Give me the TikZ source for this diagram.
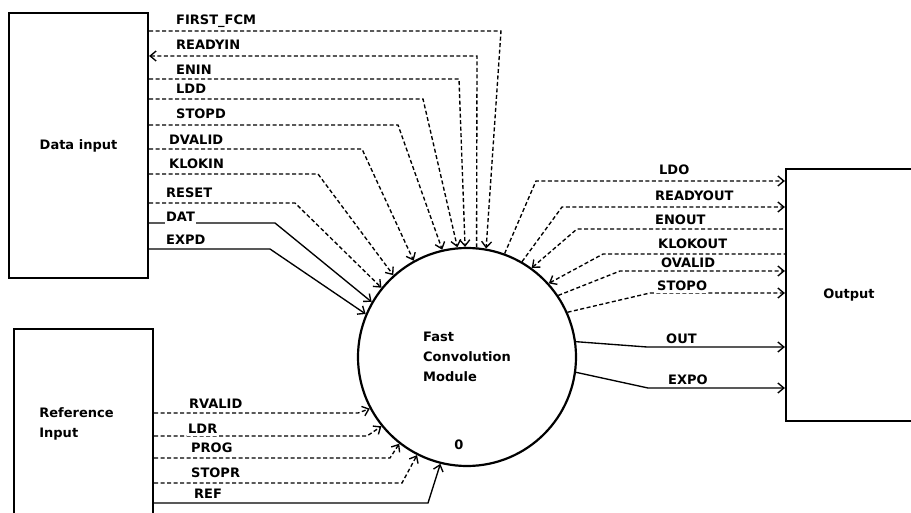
\documentclass[tikz,border=0pt]{standalone}
\usepackage{fontspec}
\setmainfont{DejaVu Sans}
\usetikzlibrary{arrows.meta}
\usetikzlibrary{positioning}

\begin{document}
\begin{tikzpicture}[
    x=1pt, y=-1pt,
    font=\bfseries\fontsize{13}{20}\selectfont,
    unit/.style={draw, line width=2.2pt, inner sep=0pt},
    module/.style={circle, draw, line width=2.2pt, minimum size=218pt, inner sep=0pt, align=left},
    ctrl/.style={line width=1.35pt, dash pattern=on 4pt off 2.5pt},
    data/.style={line width=1.35pt},
    sig/.style={fill=white, inner xsep=1pt, inner ysep=2pt, anchor=west},
    >={Straight Barb[length=6pt, width=10pt]}
]
\clip (0,0) rectangle (911,513);

% --- Units ---
\node[unit, minimum width=139pt, minimum height=265pt] (din) at (78.5,145.5) {Data input};
\node[unit, minimum width=139pt, minimum height=190pt, align=left] (rin) at (83.5,424) {Reference\hspace*{14pt}\\Input};
\node[unit, minimum width=126pt, minimum height=252pt] (out) at (849,295) {Output};
\node[module] (fcm) at (467,357) {Fast\\Convolution\hspace*{10pt}\\Module};
\node (zero) at (459,445) {0};

% --- Data input to module ---
\foreach \name/\y/\lx/\ly/\cx/\ang [count=\i] in {FIRST\_FCM/31/175/21/501/80, ENIN/79/175/70/459/91, LDD/99/175/89/423/95, STOPD/125/175/114/398/103, DVALID/149/168/140/362/119, KLOKIN/174/168/164/318/132, RESET/203/165/193/295/141}
{
    \draw[ctrl, ->] (din.east |- 0,\y) -- (\cx,\y) -- (fcm.\ang);
    \node[sig] (dl\i) at (\lx,\ly) {\name};
}
\foreach \name/\y/\lx/\ly/\cx/\ang [count=\i] in {DAT/223/165/217/275/150, EXPD/249/165/240/270/157}
{
    \draw[data, ->] (din.east |- 0,\y) -- (\cx,\y) -- (fcm.\ang);
    \node[sig] (dd\i) at (\lx,\ly) {\name};
}

% --- Module back to data input ---
\draw[ctrl, <-] (din.east |- 0,56) -- (477,56) -- (fcm.85);
\node[sig] (rdy) at (175,45) {READYIN};

% --- Module to output ---
\foreach \name/\y/\cx/\ang/\lx/\ly [count=\i] in {LDO/181/536/70/658/170, READYOUT/207/562/60/654/196, OVALID/271/620/34/660/263, STOPO/293/650/24/656/286}
{
    \draw[ctrl, ->] (fcm.\ang) -- (\cx,\y) -- (out.west |- 0,\y);
    \node[sig] (ol\i) at (\lx,\ly) {\name};
}
\foreach \name/\y/\cx/\ang/\lx/\ly [count=\i] in {ENOUT/229/577/54/654/220, KLOKOUT/254/603/42/657/244}
{
    \draw[ctrl, <-] (fcm.\ang) -- (\cx,\y) -- (out.west |- 0,\y);
    \node[sig] (il\i) at (\lx,\ly) {\name};
}
\foreach \name/\y/\cx/\ang/\lx/\ly [count=\i] in {OUT/347/647/8/665/339, EXPO/388/648/-8/667/380}
{
    \draw[data, ->] (fcm.\ang) -- (\cx,\y) -- (out.west |- 0,\y);
    \node[sig] (xl\i) at (\lx,\ly) {\name};
}

% --- Reference input to module ---
\foreach \name/\y/\cx/\ang/\lx/\ly [count=\i] in {RVALID/413/358/208/188/404, LDR/436/367/219/187/429, PROG/458/390/232/190/448, STOPR/483/402/243/190/473}
{
    \draw[ctrl, ->] (rin.east |- 0,\y) -- (\cx,\y) -- (fcm.\ang);
    \node[sig] (rl\i) at (\lx,\ly) {\name};
}
\draw[data, ->] (rin.east |- 0,503) -- (428,503) -- (fcm.256);
\node[sig] (ref) at (193,494) {REF};

\end{tikzpicture}
\end{document}
